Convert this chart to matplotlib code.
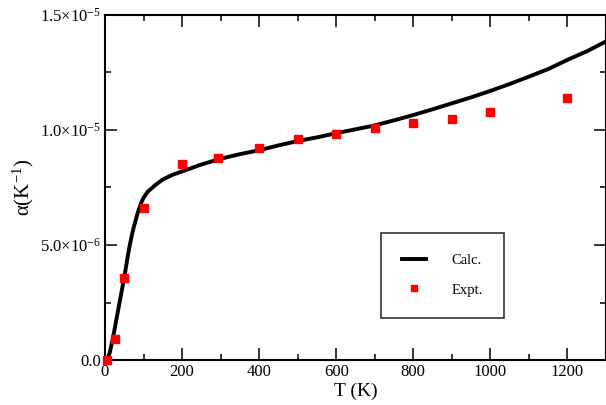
import matplotlib
matplotlib.use("Agg")
import matplotlib.pyplot as plt
from matplotlib.ticker import MultipleLocator

plt.rcParams['font.family'] = ['Liberation Serif', 'DejaVu Serif']
plt.rcParams['mathtext.fontset'] = 'custom'
plt.rcParams['mathtext.rm'] = 'Liberation Serif'
plt.rcParams['mathtext.it'] = 'Liberation Serif:italic'

# Calculated curve
calc_T = [5, 12, 20, 30, 40, 50, 60, 65, 70, 75, 80, 85, 90, 95, 100, 110, 130, 150, 175,
          200, 250, 300, 350, 400, 450, 500, 550, 600, 650, 700, 750, 800, 850, 900,
          950, 1000, 1050, 1100, 1150, 1200, 1250, 1300]
calc_a = [0.0, 0.3e-6, 0.9e-6, 1.8e-6, 2.7e-6, 3.6e-6, 4.6e-6, 5.05e-6, 5.45e-6, 5.8e-6,
          6.1e-6, 6.4e-6, 6.65e-6, 6.88e-6, 7.05e-6, 7.3e-6, 7.6e-6, 7.85e-6, 8.05e-6,
          8.2e-6, 8.5e-6, 8.75e-6, 8.95e-6, 9.12e-6, 9.33e-6, 9.52e-6, 9.68e-6, 9.86e-6,
          10.03e-6, 10.2e-6, 10.42e-6, 10.65e-6, 10.9e-6, 11.16e-6, 11.42e-6, 11.7e-6,
          12.0e-6, 12.32e-6, 12.65e-6, 13.05e-6, 13.42e-6, 13.85e-6]

# Experimental points
expt_T = [5, 25, 50, 100, 200, 293, 400, 500, 600, 700, 800, 900, 1000, 1200]
expt_a = [0.0, 0.9e-6, 3.57e-6, 6.6e-6, 8.52e-6, 8.78e-6, 9.2e-6, 9.6e-6, 9.83e-6,
          10.1e-6, 10.3e-6, 10.48e-6, 10.78e-6, 11.4e-6]

yticks = [0.0, 5e-6, 1e-5, 1.5e-5]
ytick_labels = ['0.0', r'5.0$\times$10$^{\mathregular{-6}}$',
                r'1.0$\times$10$^{\mathregular{-5}}$', r'1.5$\times$10$^{\mathregular{-5}}$']

fig = plt.figure(figsize=(6.06, 4.05), dpi=100)
ax = fig.add_axes([105/606, 45/405, 501/606, 345/405])

ax.plot(calc_T, calc_a, color='black', lw=2.8, label='Calc.', zorder=2)
ax.plot(expt_T, expt_a, ls='none', marker='s', ms=6.3, color='red', mec='red',
        label='Expt.', zorder=3, clip_on=False)

ax.set_xlim(0, 1300)
ax.set_ylim(0, 1.5e-5)
ax.xaxis.set_major_locator(MultipleLocator(200))
ax.xaxis.set_minor_locator(MultipleLocator(100))
ax.set_yticks(yticks)
ax.set_yticklabels(ytick_labels)
ax.yaxis.set_minor_locator(MultipleLocator(2.5e-6))

ax.tick_params(which='both', direction='in', top=True, right=True, labelsize=12,
               width=1.1, color='black')
ax.tick_params(which='major', length=8.7, pad=3)
ax.tick_params(which='minor', length=4.3)
for s in ax.spines.values():
    s.set_linewidth(1.5)

ax.set_xlabel('T (K)', fontsize=14, labelpad=2)
ax.set_ylabel(r'$\mathregular{\alpha(K^{-1})}$', fontsize=15, labelpad=3)

leg = ax.legend(loc='upper left', bbox_to_anchor=(276/501, 127/345),
                fontsize=10.5, frameon=True, fancybox=False, edgecolor='black',
                borderpad=1.45, labelspacing=1.1, handlelength=1.65,
                handletextpad=1.75, markerscale=0.7, borderaxespad=0)
leg.get_frame().set_linewidth(1.2)

fig.savefig('out.png', dpi=100)
